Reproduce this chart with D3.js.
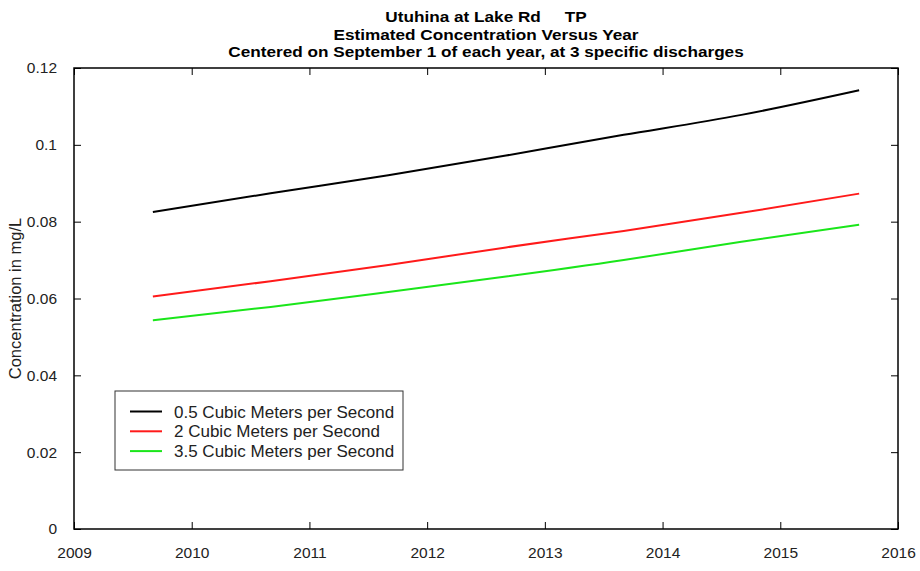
<!DOCTYPE html>
<html>
<head>
<meta charset="utf-8">
<script src="https://cdn.jsdelivr.net/npm/d3@7"></script>
<style>
  body { margin: 0; background: #fff; }
  text { font-family: "Liberation Sans", Arial, sans-serif; fill: #222; }
  .title { font-weight: bold; font-size: 15px; fill: #000; }
  .axis path, .axis line { stroke: #000; }
</style>
</head>
<body>
<div id="chart"></div>
<script>
// DATA
var years = [2009.67, 2010.67, 2011.67, 2012.67, 2013.67, 2014.67, 2015.67];
var q05 = [0.0825, 0.0874, 0.0921, 0.0972, 0.1026, 0.1078, 0.1142];
var q2 = [0.0605, 0.0645, 0.0687, 0.0733, 0.0776, 0.0823, 0.0873];
var q35 = [0.0543, 0.0578, 0.0617, 0.0657, 0.0700, 0.0748, 0.0792];
var seriesNames = ["0.5 Cubic Meters per Second", "2 Cubic Meters per Second", "3.5 Cubic Meters per Second"];
var xTicks = [2009, 2010, 2011, 2012, 2013, 2014, 2015, 2016];
var yTicks = [0, 0.02, 0.04, 0.06, 0.08, 0.1, 0.12];
var titleLines = ["Utuhina at Lake Rd     TP", "Estimated Concentration Versus Year", "Centered on September 1 of each year, at 3 specific discharges"];
var yLabel = "Concentration in mg/L";

var colors = ["#000000", "#ff1a1a", "#1ae61a"];

// SET UP DIMENSIONS
var W = 920, H = 571;
var margin = {top: 68, right: 22, bottom: 42, left: 74};
var w = W - margin.left - margin.right,
    h = H - margin.top - margin.bottom;

var svg = d3.select('#chart').append('svg')
  .attr('width', W)
  .attr('height', H);

var g = svg.append('g')
  .attr('transform', translation(margin.left, margin.top));

// SCALES
var x = d3.scaleLinear().domain([2009, 2016]).range([0, w]);
var y = d3.scaleLinear().domain([0, 0.12]).range([h, 0]);

// AXES (ticks point inward, like the original)
var tickLen = 7;
g.append('g')
  .attr('class', 'axis x bottom')
  .attr('transform', translation(0, h))
  .call(d3.axisBottom(x).tickValues(xTicks).tickFormat(d3.format('d')).tickSize(-tickLen).tickSizeOuter(0).tickPadding(18))
  .call(function(s) { s.selectAll('text').style('font-size', '15.5px'); });

g.append('g')
  .attr('class', 'axis x top')
  .call(d3.axisTop(x).tickValues(xTicks).tickFormat('').tickSize(-tickLen).tickSizeOuter(0));

g.append('g')
  .attr('class', 'axis y left')
  .call(d3.axisLeft(y).tickValues(yTicks).tickFormat(function(d) { return d === 0 ? '0' : d3.format('')(+d.toFixed(2)); })
    .tickSize(-tickLen).tickSizeOuter(0).tickPadding(17))
  .call(function(s) { s.selectAll('text').style('font-size', '15.5px'); });

g.append('g')
  .attr('class', 'axis y right')
  .attr('transform', translation(w, 0))
  .call(d3.axisRight(y).tickValues(yTicks).tickFormat('').tickSize(-tickLen).tickSizeOuter(0));

g.selectAll('.axis .domain').remove();

// frame
g.append('rect')
  .attr('width', w).attr('height', h)
  .attr('fill', 'none').attr('stroke', '#000').attr('stroke-width', 1.5);

// LINES
var allSeries = [q05, q2, q35];
var line = d3.line()
  .x(function(d, i) { return x(years[i]); })
  .y(function(d) { return y(d); })
  .curve(d3.curveNatural);

g.selectAll('.series')
  .data(allSeries)
  .enter().append('path')
    .attr('class', 'series')
    .attr('d', line)
    .attr('fill', 'none')
    .attr('stroke', function(d, i) { return colors[i]; })
    .attr('stroke-width', 2);

// TITLE (a bit wider than the font gives, like the original)
svg.selectAll('.title')
  .data(titleLines)
  .enter().append('text')
    .attr('class', 'title')
    .attr('x', margin.left + w / 2)
    .attr('y', function(d, i) { return 22 + i * 17.7; })
    .attr('text-anchor', 'middle')
    .attr('xml:space', 'preserve')
    .style('white-space', 'pre')
    .text(function(d) { return d; })
    .each(function() {
      var len = this.getComputedTextLength();
      d3.select(this).attr('textLength', len * 1.145).attr('lengthAdjust', 'spacingAndGlyphs');
    });

// Y LABEL
svg.append('text')
  .attr('transform', translation(21, margin.top + h / 2) + 'rotate(-90)')
  .attr('text-anchor', 'middle')
  .style('font-size', '16.5px')
  .text(yLabel);

// LEGEND
var legend = svg.append('g').attr('transform', translation(115, 391));
legend.append('rect')
  .attr('width', 288).attr('height', 79)
  .attr('fill', '#fff').attr('stroke', '#333').attr('stroke-width', 1);

var items = legend.selectAll('.item')
  .data(seriesNames)
  .enter().append('g')
    .attr('class', 'item')
    .attr('transform', function(d, i) { return translation(0, 20.5 + i * 19.8); });

items.append('line')
  .attr('x1', 15).attr('x2', 47)
  .attr('stroke', function(d, i) { return colors[i]; })
  .attr('stroke-width', 2);

items.append('text')
  .attr('x', 59)
  .attr('dy', '0.36em')
  .style('font-size', '17px')
  .text(function(d) { return d; });

function translation(x, y) {
  return 'translate(' + x + ',' + y + ')';
}
</script>
</body>
</html>
